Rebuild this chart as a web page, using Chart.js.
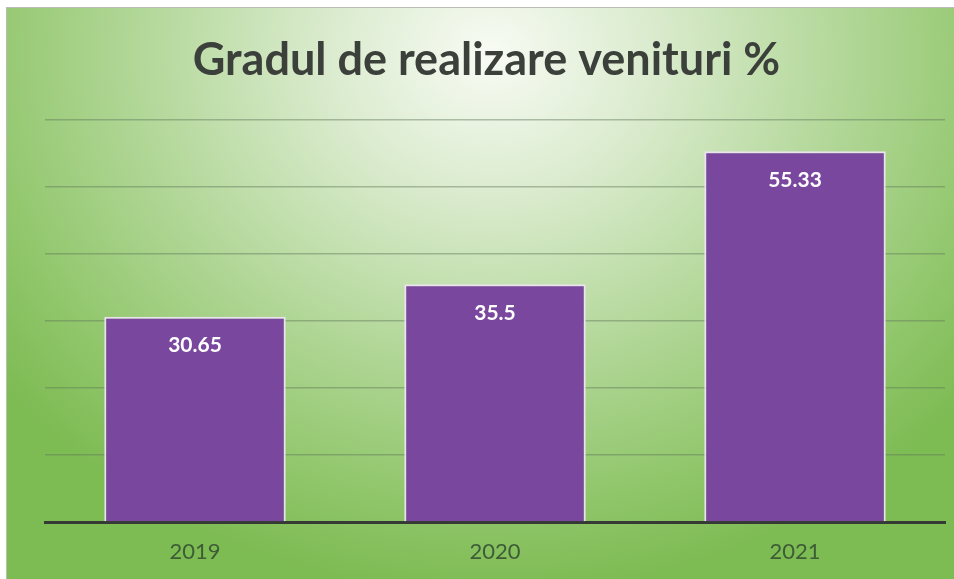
<!DOCTYPE html>
<html lang="ro">
<head>
    <meta charset="UTF-8">
    <script src="https://cdn.jsdelivr.net/npm/chart.js"></script>
    <title>Gradul de realizare venituri %</title>
    <style>
        body {
            margin: 0;
            padding: 0;
            background: #ffffff;
            overflow: hidden;
        }

        .frame {
            position: absolute;
            left: 6px;
            top: 7px;
            width: 948px;
            height: 572px;
            border-left: 1px solid #b9bdb6;
            border-top: 1px solid #b9bdb6;
            background: radial-gradient(ellipse 620px 540px at 51% 8%, #f8fbf4 0%, #dcecd0 25%, #b2d798 57%, #90c66a 84%, #7dbb53 100%);
        }

        .frame canvas {
            display: block;
        }
    </style>
</head>
<body>
    <div class="frame">
        <canvas id="grafic" width="947" height="571"></canvas>
    </div>

    <script>
        // date
        var ani = ['2019', '2020', '2021'];
        var procente = [30.65, 35.5, 55.33];
        var yMax = 60;
        var yPas = 10;

        // etichete albe in interiorul barelor
        var eticheteBare = {
            id: 'eticheteBare',
            afterDatasetsDraw: function(chart) {
                var ctx = chart.ctx;
                var meta = chart.getDatasetMeta(0);
                ctx.save();
                ctx.fillStyle = '#ffffff';
                ctx.font = 'bold 21px Lato, sans-serif';
                ctx.textAlign = 'center';
                ctx.textBaseline = 'middle';
                meta.data.forEach(function(bar, i) {
                    ctx.fillText(String(procente[i]), bar.x, bar.y + 29);
                });
                ctx.restore();
            }
        };

        var ctx = document.getElementById('grafic').getContext('2d');
        var grafic = new Chart(ctx, {
            type: 'bar',
            data: {
                labels: ani,
                datasets: [{
                    data: procente,
                    backgroundColor: '#7a479e',
                    borderColor: 'rgba(236, 228, 242, 0.95)',
                    borderWidth: 2,
                    borderSkipped: 'bottom',
                    barPercentage: 0.605,
                    categoryPercentage: 1
                }]
            },
            options: {
                responsive: false,
                animation: false,
                layout: {
                    padding: { left: 21, right: 9, top: 0, bottom: 0 }
                },
                plugins: {
                    legend: { display: false },
                    tooltip: { enabled: false },
                    title: {
                        display: true,
                        text: 'Gradul de realizare venituri %',
                        color: '#3c403b',
                        font: { family: 'Lato, sans-serif', size: 45, weight: 'bold' },
                        padding: { top: 25, bottom: 33 }
                    }
                },
                scales: {
                    x: {
                        grid: { display: false, drawTicks: false },
                        border: { display: true, color: '#353a35', width: 3 },
                        ticks: {
                            color: '#3e5c36',
                            font: { family: 'Lato, sans-serif', size: 22 },
                            padding: 17
                        },
                        afterFit: function(scale) {
                            scale.height = 57;
                        }
                    },
                    y: {
                        min: 0,
                        max: yMax,
                        ticks: { display: false, stepSize: yPas },
                        border: { display: false },
                        grid: {
                            drawTicks: false,
                            color: 'rgba(95, 120, 90, 0.45)',
                            lineWidth: 1.5
                        },
                        afterFit: function(scale) {
                            scale.width = 17;
                        }
                    }
                }
            },
            plugins: [eticheteBare]
        });
    </script>
</body>
</html>
